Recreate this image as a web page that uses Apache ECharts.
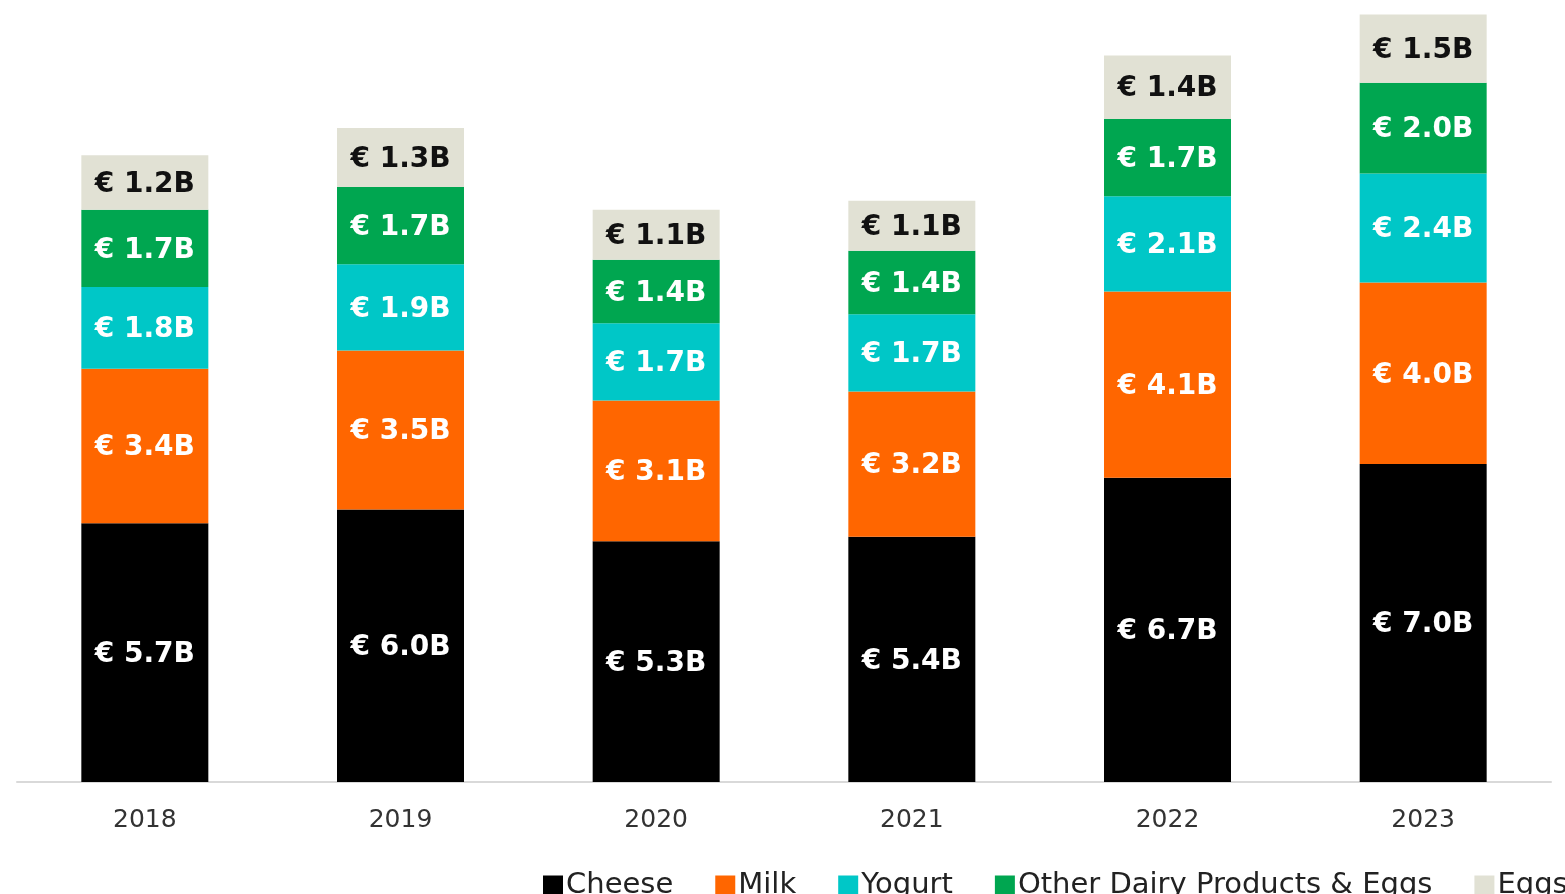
<!DOCTYPE html>
<html>
<head>
<meta charset="utf-8">
<script src="https://cdn.jsdelivr.net/npm/echarts@6/dist/echarts.min.js"></script>
<style>
  html, body { margin: 0; padding: 0; background: #fff; }
  #chart { width: 1565px; height: 894px; }
</style>
</head>
<body>
<div id="chart"></div>
<script>
// categories (years)
var years = ['2018', '2019', '2020', '2021', '2022', '2023'];
// values in € billions, bottom of stack first
var cheese = [5.7, 6.0, 5.3, 5.4, 6.7, 7.0];
var milk = [3.4, 3.5, 3.1, 3.2, 4.1, 4.0];
var yogurt = [1.8, 1.9, 1.7, 1.7, 2.1, 2.4];
var otherDairy = [1.7, 1.7, 1.4, 1.4, 1.7, 2.0];
var eggs = [1.2, 1.3, 1.1, 1.1, 1.4, 1.5];

var seriesNames = ['Cheese', 'Milk', 'Yogurt', 'Other Dairy Products & Eggs', 'Eggs'];
var seriesData = [cheese, milk, yogurt, otherDairy, eggs];
var colors = ['#000000', '#ff6600', '#00c7c7', '#00a650', '#e1e1d4'];
var labelColors = ['#ffffff', '#ffffff', '#ffffff', '#ffffff', '#111111'];

var chart = echarts.init(document.getElementById('chart'));

var series = [];
for (var i = 0; i < seriesData.length; i++) {
  series.push({
    name: seriesNames[i],
    type: 'bar',
    stack: 'total',
    data: seriesData[i],
    barWidth: 127,
    itemStyle: { color: colors[i] },
    label: {
      show: true,
      position: 'inside',
      color: labelColors[i],
      fontFamily: 'DejaVu Sans',
      fontWeight: 'bold',
      fontSize: 28,
      offset: [0, 2],
      formatter: function (p) { return '€ ' + p.value.toFixed(1) + 'B'; }
    }
  });
}

var option = {
  animation: false,
  backgroundColor: '#ffffff',
  color: colors,
  grid: { left: 17, right: 14, top: 10, bottom: 112 },
  legend: {
    data: seriesNames,
    left: 538,
    top: 866,
    width: 1300,
    icon: 'rect',
    itemWidth: 20,
    itemHeight: 20,
    itemGap: 42,
    selectedMode: false,
    textStyle: { color: '#222222', fontFamily: 'DejaVu Sans', fontSize: 29, padding: [0, 0, 0, -2] }
  },
  xAxis: {
    type: 'category',
    data: years,
    axisTick: { show: false },
    axisLine: { lineStyle: { color: '#d9d9d9', width: 2 } },
    axisLabel: { color: '#333333', fontFamily: 'DejaVu Sans', fontSize: 25, margin: 26 }
  },
  yAxis: {
    type: 'value',
    min: 0,
    max: 17,
    show: false,
    splitLine: { show: false }
  },
  series: series
};

chart.setOption(option);
</script>
</body>
</html>
